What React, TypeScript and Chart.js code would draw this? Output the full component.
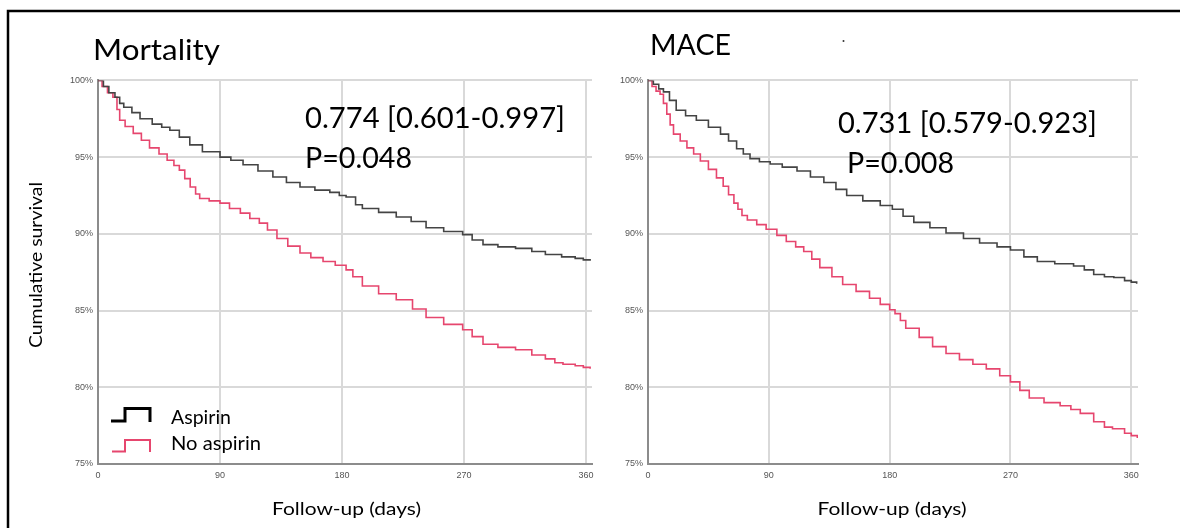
import React, { useEffect, useRef } from 'react';
import { Chart, registerables } from 'chart.js';

Chart.register(...registerables);

// ---- tick labels ----
const xTickValues = [0, 90, 180, 270, 360];
const yTickValues = [75, 80, 85, 90, 95, 100];

// ---- Mortality panel ----
const mortalityAspirinDays = [0, 4, 8, 12.5, 16, 19, 25, 31, 40, 47, 53, 60, 67.7, 77, 90, 98, 107, 118, 129, 139, 149, 160, 171, 178, 183, 190, 195, 207, 220, 231, 242, 255, 269, 276, 284, 295, 308, 320, 330, 342, 352, 358, 363];
const mortalityAspirinSurv = [100, 99.6, 99.2, 98.9, 98.5, 98.25, 97.9, 97.5, 97.15, 96.95, 96.75, 96.3, 95.8, 95.35, 95.0, 94.8, 94.5, 94.1, 93.7, 93.35, 93.05, 92.85, 92.7, 92.5, 92.4, 91.9, 91.65, 91.4, 91.1, 90.8, 90.4, 90.15, 89.95, 89.6, 89.3, 89.15, 89.05, 88.85, 88.65, 88.5, 88.4, 88.3, 88.25];

const mortalityNoAspirinDays = [0, 3, 7, 11, 14, 16, 20, 26, 32, 38, 45, 51, 56, 60, 64, 68, 72, 75, 82, 90, 97, 105, 112, 119, 125, 132, 140, 149, 157, 166, 175, 183, 188, 195, 207, 220, 232, 242, 255, 269, 276, 284, 295, 308, 320, 330, 337, 343, 352, 358, 363];
const mortalityNoAspirinSurv = [100, 99.6, 99.2, 98.9, 98.1, 97.4, 97.0, 96.55, 96.1, 95.6, 95.2, 94.8, 94.45, 94.15, 93.6, 93.05, 92.6, 92.3, 92.15, 92.0, 91.65, 91.35, 91.0, 90.7, 90.25, 89.7, 89.2, 88.75, 88.45, 88.2, 87.95, 87.65, 87.2, 86.6, 86.1, 85.7, 85.1, 84.55, 84.1, 83.75, 83.3, 82.8, 82.6, 82.45, 82.1, 81.85, 81.6, 81.5, 81.4, 81.3, 81.2];

// ---- MACE panel ----
const maceAspirinDays = [0, 4, 8, 11.5, 16, 21, 28, 36, 45, 54, 60, 66, 71, 76, 83, 91, 100, 111, 121, 131, 140, 148, 160, 173, 182, 190, 198, 210, 222, 235, 247, 260, 270, 280, 290, 303, 317, 325, 332, 340, 347, 355, 360, 364];
const maceAspirinSurv = [100, 99.75, 99.45, 99.25, 98.7, 98.05, 97.7, 97.4, 96.95, 96.5, 96.05, 95.55, 95.2, 94.9, 94.7, 94.55, 94.35, 94.1, 93.7, 93.35, 92.9, 92.5, 92.15, 91.85, 91.6, 91.15, 90.75, 90.4, 90.05, 89.7, 89.4, 89.15, 88.95, 88.5, 88.2, 88.05, 87.9, 87.65, 87.35, 87.2, 87.15, 86.95, 86.85, 86.75];

const maceNoAspirinDays = [0, 3, 6, 9, 11.5, 14, 16.5, 19, 24, 29, 34, 39, 45, 51, 56, 60, 64, 67, 70, 74, 81, 88, 96, 103, 110, 116, 122, 128, 137, 145, 155, 165, 173, 180, 184, 188, 192, 202, 212, 222, 232, 242, 252, 262, 270, 277, 284, 295, 307, 315, 322, 332, 340, 346, 355, 360, 364.5];
const maceNoAspirinSurv = [100, 99.6, 99.3, 99.1, 98.5, 97.8, 97.1, 96.5, 96.05, 95.6, 95.2, 94.75, 94.2, 93.65, 93.1, 92.55, 92.0, 91.6, 91.2, 90.9, 90.6, 90.3, 89.9, 89.5, 89.15, 88.85, 88.35, 87.8, 87.2, 86.7, 86.25, 85.8, 85.4, 85.05, 84.8, 84.35, 83.85, 83.25, 82.65, 82.2, 81.8, 81.5, 81.2, 80.75, 80.35, 79.8, 79.3, 79.0, 78.8, 78.55, 78.3, 77.75, 77.4, 77.3, 77.0, 76.85, 76.7];

const seriesNames = ['Aspirin', 'No aspirin'];
const seriesColors = ['#444444', '#e6466e'];

const toPoints = (days: number[], surv: number[]) => days.map((d, i) => ({ x: d, y: surv[i] }));

type PanelProps = {
  left: number;
  width: number;
  yAxisWidth: number;
  padRight: number;
  xMax: number;
  aspirinDays: number[];
  aspirinSurv: number[];
  noAspirinDays: number[];
  noAspirinSurv: number[];
};

function KMPanel(p: PanelProps) {
  const ref = useRef<HTMLCanvasElement>(null);
  useEffect(() => {
    const tickFont = { family: "'Liberation Sans', Arial, sans-serif", size: 9 };
    const chart = new Chart(ref.current as HTMLCanvasElement, {
      type: 'line',
      data: {
        datasets: [
          {
            label: seriesNames[0],
            data: toPoints(p.aspirinDays, p.aspirinSurv),
            borderColor: seriesColors[0],
            borderWidth: 1.6,
            pointRadius: 0,
            stepped: 'before',
            fill: false,
          },
          {
            label: seriesNames[1],
            data: toPoints(p.noAspirinDays, p.noAspirinSurv),
            borderColor: seriesColors[1],
            borderWidth: 1.6,
            pointRadius: 0,
            stepped: 'before',
            fill: false,
          },
        ],
      },
      options: {
        responsive: false,
        animation: false,
        layout: { padding: { top: 10, right: p.padRight, left: 0, bottom: 0 } },
        plugins: { legend: { display: false }, tooltip: { enabled: false } },
        scales: {
          x: {
            type: 'linear',
            min: 0,
            max: p.xMax,
            afterBuildTicks: (s: any) => {
              s.ticks = xTickValues.map((v) => ({ value: v }));
            },
            afterFit: (s: any) => {
              s.height = 36;
            },
            ticks: { font: tickFont, color: '#555555', padding: 6, maxRotation: 0, autoSkip: false },
            grid: { color: '#d9d9d9', lineWidth: 2, drawTicks: false },
            border: { color: '#8c8c8c', width: 2 },
          },
          y: {
            type: 'linear',
            min: 75,
            max: 100,
            afterBuildTicks: (s: any) => {
              s.ticks = yTickValues.map((v) => ({ value: v }));
            },
            afterFit: (s: any) => {
              s.width = p.yAxisWidth;
            },
            ticks: { font: tickFont, color: '#555555', padding: 5, callback: (v: any) => `${v}%` },
            grid: { color: '#d9d9d9', lineWidth: 2, drawTicks: false },
            border: { color: '#8c8c8c', width: 2 },
          },
        },
      },
    } as any);
    return () => chart.destroy();
  }, []);
  return (
    <canvas
      ref={ref}
      width={p.width}
      height={430}
      style={{ position: 'absolute', left: p.left, top: 70, width: p.width, height: 430 }}
    />
  );
}

const textFont = "Lato, 'Noto Sans', sans-serif";

export default function App() {
  return (
    <div
      style={{
        position: 'fixed',
        left: 0,
        top: 0,
        width: 1180,
        height: 528,
        background: '#ffffff',
        overflow: 'hidden',
      }}
    >
      <KMPanel
        left={0}
        width={600}
        yAxisWidth={98}
        padRight={8}
        xMax={364.4}
        aspirinDays={mortalityAspirinDays}
        aspirinSurv={mortalityAspirinSurv}
        noAspirinDays={mortalityNoAspirinDays}
        noAspirinSurv={mortalityNoAspirinSurv}
      />
      <KMPanel
        left={600}
        width={550}
        yAxisWidth={48}
        padRight={12}
        xMax={365}
        aspirinDays={maceAspirinDays}
        aspirinSurv={maceAspirinSurv}
        noAspirinDays={maceNoAspirinDays}
        noAspirinSurv={maceNoAspirinSurv}
      />
      <svg
        width={1180}
        height={528}
        style={{ position: 'absolute', left: 0, top: 0, pointerEvents: 'none' }}
      >
        <path d="M8,528 L8,11 L1180,11" fill="none" stroke="#000" strokeWidth={2.5} />
        <g fontFamily={textFont} fill="#000">
          <text x={93} y={60} fontSize={28} textLength={127} lengthAdjust="spacingAndGlyphs">Mortality</text>
          <text x={305} y={128} fontSize={28} textLength={260} lengthAdjust="spacingAndGlyphs">0.774 [0.601-0.997]</text>
          <text x={305} y={168} fontSize={28} textLength={107} lengthAdjust="spacingAndGlyphs">P=0.048</text>
          <text x={650} y={55} fontSize={28} textLength={81} lengthAdjust="spacingAndGlyphs">MACE</text>
          <text x={838} y={133} fontSize={28} textLength={259} lengthAdjust="spacingAndGlyphs">0.731 [0.579-0.923]</text>
          <text x={847} y={172.5} fontSize={28} textLength={107} lengthAdjust="spacingAndGlyphs">P=0.008</text>
          <text x={171} y={424} fontSize={19} textLength={60} lengthAdjust="spacingAndGlyphs">{seriesNames[0]}</text>
          <text x={171} y={450} fontSize={19} textLength={90} lengthAdjust="spacingAndGlyphs">{seriesNames[1]}</text>
          <text x={346.5} y={515} fontSize={18} textAnchor="middle" textLength={149} lengthAdjust="spacingAndGlyphs">Follow-up (days)</text>
          <text x={892} y={515} fontSize={18} textAnchor="middle" textLength={149} lengthAdjust="spacingAndGlyphs">Follow-up (days)</text>
          <text
            x={0}
            y={0}
            fontSize={18}
            textAnchor="middle"
            textLength={166}
            lengthAdjust="spacingAndGlyphs"
            transform="translate(41.5,265) rotate(-90)"
          >
            Cumulative survival
          </text>
        </g>
        <path d="M111,421 H125 V408.5 H150 V422" fill="none" stroke="#000" strokeWidth={3} />
        <path d="M112,451.5 H125 V440 H150 V452" fill="none" stroke={seriesColors[1]} strokeWidth={2} />
        <circle cx={843.5} cy={41} r={1} fill="#333" />
      </svg>
    </div>
  );
}
